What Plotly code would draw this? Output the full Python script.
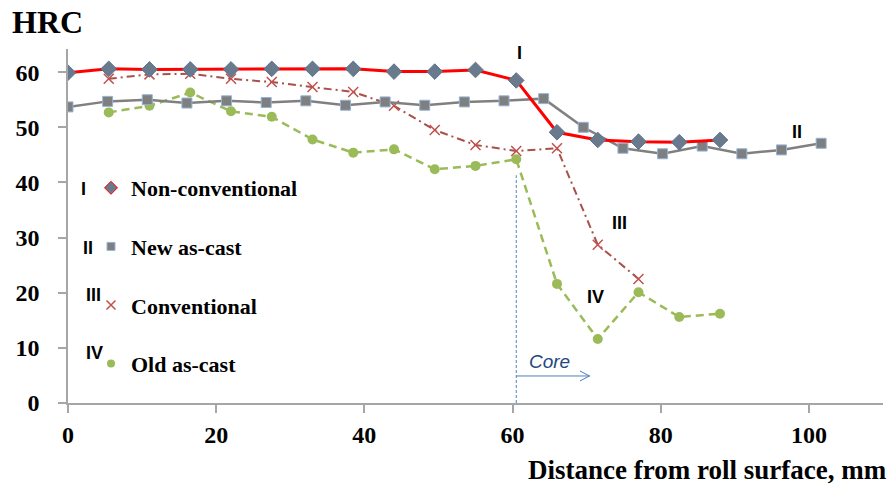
import plotly.graph_objects as go

# ---- data ----
x_nonconv = [0, 5.5, 11, 16.5, 22, 27.5, 33, 38.5, 44, 49.5, 55, 60.5, 66, 71.5, 77, 82.5, 88]
y_nonconv = [59.9, 60.6, 60.5, 60.5, 60.5, 60.6, 60.6, 60.6, 60.1, 60.1, 60.4, 58.5, 49.1, 47.7, 47.4, 47.3, 47.7]

x_newcast = [0, 5.35, 10.7, 16.05, 21.4, 26.75, 32.1, 37.45, 42.8, 48.15, 53.5, 58.85,
             64.2, 69.55, 74.9, 80.25, 85.6, 90.95, 96.3, 101.65]
y_newcast = [53.7, 54.7, 55.0, 54.4, 54.8, 54.5, 54.8, 54.0, 54.6, 54.0, 54.6, 54.8,
             55.2, 50.0, 46.2, 45.2, 46.6, 45.2, 45.9, 47.1]

x_conv = [5.5, 11, 16.5, 22, 27.5, 33, 38.5, 44, 49.5, 55, 60.5, 66, 71.5, 77]
y_conv = [58.8, 59.6, 59.7, 58.8, 58.2, 57.3, 56.4, 53.9, 49.5, 46.8, 45.7, 46.2, 28.7, 22.5]

x_oldcast = [5.5, 11, 16.5, 22, 27.5, 33, 38.5, 44, 49.5, 55, 60.5, 66, 71.5, 77, 82.5, 88]
y_oldcast = [52.7, 53.9, 56.3, 52.9, 51.9, 47.8, 45.4, 46.0, 42.4, 43.0, 44.2, 21.6, 11.6, 20.1, 15.6, 16.2]

series_names = ["Non-conventional", "New as-cast", "Conventional", "Old as-cast"]
roman = ["I", "II", "III", "IV"]
x_ticks = [0, 20, 40, 60, 80, 100]
y_ticks = [0, 10, 20, 30, 40, 50, 60]
core_x = 60.5

SERIF = "Liberation Serif"
SANS = "Liberation Sans"

styles = [
    dict(line=dict(color="#FF0000", width=3),
         marker=dict(symbol="diamond", size=12, color="#687A8C", line=dict(color="#5B7290", width=1))),
    dict(line=dict(color="#808080", width=2.5),
         marker=dict(symbol="square", size=10, color="#7F7F7F", line=dict(color="#95B3D7", width=1))),
    dict(line=dict(color="#A9504B", width=2, dash="8px,4px,2px,4px"),
         marker=dict(symbol="x-thin", size=10, color="#C0504D", line=dict(color="#C0504D", width=1.5))),
    dict(line=dict(color="#9BBB59", width=2.5, dash="8px,5px"),
         marker=dict(symbol="circle", size=10, color="#9BBB59")),
]
legend_marker = [
    dict(symbol="diamond", size=10, color="#687A8C", line=dict(color="#FF0000", width=1)),
    dict(symbol="square", size=8, color="#7F7F7F", line=dict(color="#95B3D7", width=1)),
    dict(symbol="x-thin", size=9, color="#C0504D", line=dict(color="#C0504D", width=1.5)),
    dict(symbol="circle", size=8, color="#9BBB59"),
]
xs = [x_nonconv, x_newcast, x_conv, x_oldcast]
ys = [y_nonconv, y_newcast, y_conv, y_oldcast]

fig = go.Figure()

# data traces (drawn IV first so I is on top)
for i in [3, 2, 1, 0]:
    fig.add_trace(go.Scatter(x=xs[i], y=ys[i], name=series_names[i], mode="lines+markers",
                             showlegend=False, **styles[i]))
# legend entries (marker only, like the compact legend of the reference)
for i in range(4):
    fig.add_trace(go.Scatter(x=[None], y=[None], name=series_names[i], mode="markers",
                             marker=legend_marker[i], legendgroup=f"g{i}", showlegend=True))

# core marker line and arrow
fig.add_shape(type="line", xref="x", yref="y", x0=core_x, x1=core_x, y0=0, y1=41.3,
              line=dict(color="#4F81BD", width=1, dash="3px,2px"))
fig.add_shape(type="path", xref="x", yref="y",
              path=f"M {core_x},4.9 L 70.4,4.9 M 69.1,5.8 L 70.4,4.9 L 69.1,4.0",
              line=dict(color="#4F81BD", width=1))
fig.add_annotation(x=65.0, y=7.5, xref="x", yref="y", text="<i>Core</i>", showarrow=False,
                   font=dict(family=SANS, size=19, color="#1F497D"))

# series labels on the curves
lab_pos = [(61.0, 63.4), (98.4, 49.2), (74.4, 32.6), (71.2, 19.3)]
for r, (lx, ly) in zip(roman, lab_pos):
    fig.add_annotation(x=lx, y=ly, xref="x", yref="y", text=f"<b>{r}</b>", showarrow=False,
                       font=dict(family=SANS, size=18, color="black"))

# roman numerals beside legend
leg_px = [(79, 189), (81, 248), (84, 307), (84, 365)]
for r, (px, py) in zip(roman, leg_px):
    fig.add_annotation(x=(px - 68) / 815, y=(403 - py) / 354, xref="paper", yref="paper",
                       text=f"<b>{r}</b>", showarrow=False,
                       font=dict(family=SANS, size=18, color="black"))

# titles
fig.add_annotation(x=(10 - 68) / 815, y=(403 - 22) / 354, xref="paper", yref="paper",
                   xanchor="left", yanchor="middle", text="<b>HRC</b>", showarrow=False,
                   font=dict(family=SERIF, size=32, color="black"))
fig.add_annotation(x=(889 - 68) / 815, y=(403 - 470) / 354, xref="paper", yref="paper",
                   xanchor="right", yanchor="middle", text="<b>Distance from roll surface, mm</b>",
                   showarrow=False, font=dict(family=SERIF, size=27, color="black"))

fig.update_layout(
    width=891, height=486,
    margin=dict(l=68, r=8, t=49, b=83),
    paper_bgcolor="white", plot_bgcolor="white",
    showlegend=True,
    legend=dict(x=(91 - 68) / 815, y=(403 - 167) / 354, xanchor="left", yanchor="top",
                bgcolor="rgba(0,0,0,0)", tracegroupgap=27, itemwidth=30,
                font=dict(family=SERIF, size=22, color="black", weight="bold")),
    xaxis=dict(range=[0, 110], tickvals=x_ticks, showgrid=False, zeroline=False,
               showline=True, linecolor="#A6A6A6", linewidth=1.5, automargin=False,
               ticks="outside", ticklen=8, tickcolor="#A6A6A6", tickwidth=1.5,
               ticklabelstandoff=1,
               tickfont=dict(family=SERIF, size=24, color="black", weight="bold")),
    yaxis=dict(range=[0, 64.2], tickvals=y_ticks, showgrid=False, zeroline=False,
               showline=True, linecolor="#A6A6A6", linewidth=1.5, automargin=False,
               ticks="outside", ticklen=8, tickcolor="#A6A6A6", tickwidth=1.5,
               ticklabelstandoff=14,
               tickfont=dict(family=SERIF, size=24, color="black", weight="bold")),
)

fig.write_html("out.html")
